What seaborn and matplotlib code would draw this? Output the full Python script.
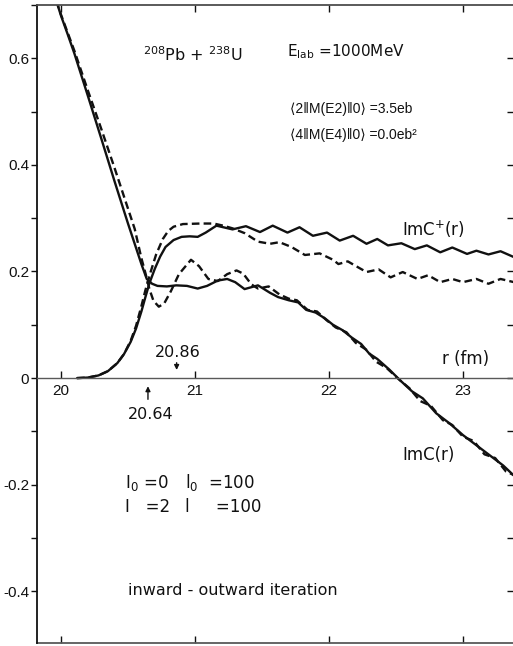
import matplotlib
matplotlib.use("Agg")
import matplotlib.pyplot as plt
import seaborn as sns
import pandas as pd
from matplotlib.ticker import MultipleLocator, FixedLocator

sns.set_style("ticks")
plt.rcParams["font.family"] = ["Liberation Sans", "DejaVu Sans"]
plt.rcParams["mathtext.default"] = "regular"
plt.rcParams["lines.scale_dashes"] = False

# ---------------- data ----------------
# Im C(r), solid (coupled) curve
r_imc_solid = [19.965, 20.00, 20.05, 20.10, 20.20, 20.30, 20.40, 20.50, 20.55, 20.60,
               20.64, 20.68, 20.72, 20.79, 20.86, 20.94, 21.02, 21.09, 21.17, 21.24,
               21.30, 21.37, 21.47, 21.56, 21.62, 21.70, 21.77, 21.83, 21.90, 21.97,
               22.03, 22.10, 22.17, 22.24, 22.30, 22.36, 22.45, 22.53, 22.62, 22.70,
               22.80, 22.90, 23.00, 23.10, 23.20, 23.30, 23.38]
imc_solid = [0.708, 0.680, 0.645, 0.609, 0.530, 0.450, 0.369, 0.290, 0.252, 0.214,
             0.186, 0.177, 0.173, 0.172, 0.174, 0.173, 0.168, 0.173, 0.183, 0.186,
             0.180, 0.167, 0.174, 0.160, 0.152, 0.146, 0.142, 0.128, 0.123, 0.112,
             0.100, 0.090, 0.076, 0.064, 0.046, 0.036, 0.016, -0.004, -0.025, -0.038,
             -0.066, -0.085, -0.107, -0.126, -0.145, -0.164, -0.183]

# Im C(r), dashed curve
r_imc_dashed = [19.965, 20.00, 20.05, 20.10, 20.20, 20.30, 20.40, 20.50, 20.55, 20.60,
                20.63, 20.66, 20.69, 20.73, 20.77, 20.82, 20.88, 20.97, 21.03, 21.10,
                21.17, 21.24, 21.31, 21.36, 21.42, 21.47, 21.55, 21.63, 21.70, 21.76,
                21.84, 21.91, 21.98, 22.05, 22.13, 22.20, 22.28, 22.35, 22.43, 22.52,
                22.60, 22.68, 22.76, 22.85, 22.92, 23.00, 23.08, 23.16, 23.24, 23.32,
                23.38]
imc_dashed = [0.708, 0.682, 0.648, 0.614, 0.540, 0.468, 0.394, 0.318, 0.280, 0.225,
              0.197, 0.167, 0.145, 0.134, 0.140, 0.163, 0.195, 0.222, 0.210, 0.186,
              0.182, 0.195, 0.202, 0.196, 0.176, 0.168, 0.172, 0.157, 0.149, 0.146,
              0.128, 0.125, 0.109, 0.095, 0.086, 0.066, 0.053, 0.031, 0.019, -0.002,
              -0.019, -0.043, -0.052, -0.079, -0.088, -0.110, -0.118, -0.143, -0.150, -0.175,
              -0.182]

# Im C+(r), solid curve
r_imcp_solid = [20.12, 20.20, 20.28, 20.35, 20.42, 20.47, 20.52, 20.56, 20.60, 20.63,
                20.66, 20.70, 20.74, 20.78, 20.84, 20.90, 20.96, 21.02, 21.08, 21.16,
                21.28, 21.38, 21.485, 21.58, 21.69, 21.78, 21.88, 21.985, 22.08, 22.18,
                22.28, 22.36, 22.44, 22.54, 22.64, 22.73, 22.83, 22.92, 23.03, 23.10,
                23.19, 23.28, 23.38]
imcp_solid = [0.000, 0.001, 0.005, 0.013, 0.028, 0.045, 0.068, 0.093, 0.125, 0.152,
              0.178, 0.205, 0.228, 0.246, 0.259, 0.265, 0.266, 0.265, 0.273, 0.286,
              0.279, 0.285, 0.274, 0.286, 0.273, 0.283, 0.267, 0.273, 0.258, 0.267,
              0.252, 0.261, 0.249, 0.253, 0.242, 0.249, 0.236, 0.245, 0.233, 0.239,
              0.232, 0.238, 0.227]

# Im C+(r), dashed curve
r_imcp_dashed = [20.12, 20.20, 20.28, 20.35, 20.42, 20.47, 20.52, 20.56, 20.60, 20.63,
                 20.67, 20.71, 20.76, 20.80, 20.84, 20.91, 21.04, 21.14, 21.21, 21.28,
                 21.37, 21.47, 21.56, 21.63, 21.72, 21.82, 21.93, 22.03, 22.07, 22.14,
                 22.23, 22.28, 22.37, 22.46, 22.55, 22.66, 22.74, 22.83, 22.92, 23.00,
                 23.10, 23.19, 23.28, 23.38]
imcp_dashed = [0.000, 0.001, 0.005, 0.013, 0.028, 0.045, 0.070, 0.098, 0.135, 0.165,
               0.200, 0.232, 0.261, 0.276, 0.284, 0.289, 0.290, 0.290, 0.286, 0.281,
               0.272, 0.256, 0.252, 0.255, 0.246, 0.231, 0.234, 0.222, 0.214, 0.219,
               0.206, 0.199, 0.204, 0.189, 0.199, 0.186, 0.193, 0.180, 0.186, 0.180,
               0.186, 0.177, 0.186, 0.180]

x_ticks = [20, 21, 22, 23]
x_ticklabels = ["20", "21", "22", "23"]
y_ticks = [-0.4, -0.2, 0.0, 0.2, 0.4, 0.6]
y_ticklabels = ["-0.4", "-0.2", "0", "0.2", "0.4", "0.6"]

# ---------------- figure ----------------
W, H = 513, 646
fig = plt.figure(figsize=(W / 100, H / 100), dpi=100)
ax = fig.add_axes([37 / W, 3 / H, (W - 37) / W, 638 / H])

ink = "#111111"
lw = 1.7
dash = (0, (5.5, 3.0))

sns.lineplot(x=r_imc_solid, y=imc_solid, ax=ax, color=ink, lw=lw, estimator=None, sort=False)
sns.lineplot(x=r_imc_dashed, y=imc_dashed, ax=ax, color=ink, lw=lw, estimator=None, sort=False,
             linestyle=dash)
sns.lineplot(x=r_imcp_solid, y=imcp_solid, ax=ax, color=ink, lw=lw, estimator=None, sort=False)
sns.lineplot(x=r_imcp_dashed, y=imcp_dashed, ax=ax, color=ink, lw=lw, estimator=None, sort=False,
             linestyle=dash)

ax.set_xlim(19.821, 23.373)
ax.set_ylim(-0.497, 0.700)
ax.set_xlabel("")
ax.set_ylabel("")

# x axis through y = 0
ax.spines["bottom"].set_position(("data", 0))
ax.spines["bottom"].set_color("0.35")
ax.spines["bottom"].set_linewidth(1.0)
ax.spines["top"].set_color("0.3")
ax.spines["top"].set_linewidth(1.3)
ax.spines["left"].set_color(ink)
ax.spines["left"].set_linewidth(1.3)
ax.spines["right"].set_visible(False)

ax.set_xticks(x_ticks, x_ticklabels)
ax.tick_params(axis="x", which="major", direction="in", length=5, width=1.0,
               top=True, bottom=True, labelsize=11, pad=4, colors=ink)

ax.set_yticks(y_ticks, y_ticklabels)
ax.yaxis.set_minor_locator(MultipleLocator(0.1))
ax.tick_params(axis="y", which="both", direction="out", length=4, width=1.0,
               left=True, right=False, labelsize=11, pad=1.5, colors=ink)

# frame bottom with inward ticks
secx = ax.secondary_xaxis(0.0)
secx.set_xticks(x_ticks)
secx.tick_params(direction="in", length=5, width=1.0, labelbottom=False, colors=ink)
secx.spines["bottom"].set_color("0.35")
secx.spines["bottom"].set_linewidth(1.3)

# right side inward ticks
secy = ax.secondary_yaxis("right")
secy.set_yticks([-0.4, -0.3, -0.2, -0.1, 0.0, 0.1, 0.2, 0.3, 0.4, 0.5, 0.6])
secy.tick_params(direction="in", length=4, width=1.0, labelright=False, colors=ink)
secy.spines["right"].set_visible(False)

# ---------------- annotations ----------------
tf = ["DejaVu Sans"]
fs = 12
bf = ["Liberation Sans", "DejaVu Sans"]
ax.text(20.612, 0.594, r"$^{208}$Pb + $^{238}$U", fontsize=11.5, color=ink, family=tf)
ax.text(21.687, 0.604, r"E$_{lab}$ =1000MeV", fontsize=11, color=ink, family=tf)
ax.text(21.709, 0.497, "⟨2‖M(E2)‖0⟩ =3.5eb", fontsize=10, color=ink, family=bf)
ax.text(21.709, 0.449, "⟨4‖M(E4)‖0⟩ =0.0eb²", fontsize=10, color=ink, family=bf)
ax.text(22.545, 0.267, r"ImC$^{+}$(r)", fontsize=fs, color=ink, family=tf)
ax.text(22.843, 0.026, "r (fm)", fontsize=fs, color=ink, family=tf)
ax.text(22.545, -0.153, "ImC(r)", fontsize=fs, color=ink, family=tf)

ax.text(20.873, 0.039, "20.86", fontsize=11.5, color=ink, ha="center", family=tf)
ax.annotate("", xy=(20.863, 0.010), xytext=(20.863, 0.034),
            arrowprops=dict(arrowstyle="-|>", color=ink, lw=1.0, mutation_scale=7))
ax.text(20.67, -0.076, "20.64", fontsize=11.5, color=ink, ha="center", family=tf)
ax.annotate("", xy=(20.649, -0.010), xytext=(20.649, -0.045),
            arrowprops=dict(arrowstyle="-|>", color=ink, lw=1.0, mutation_scale=7))

ax.text(20.478, -0.206, r"I$_0$ =0", fontsize=fs, color=ink, family=tf)
ax.text(20.925, -0.206, r"l$_0$  =100", fontsize=fs, color=ink, family=tf)
ax.text(20.478, -0.252, "I   =2", fontsize=fs, color=ink, family=tf)
ax.text(20.925, -0.252, "l     =100", fontsize=fs, color=ink, family=tf)
ax.text(20.50, -0.407, "inward - outward iteration", fontsize=11.5, color=ink, family=tf)

fig.savefig("out.png", dpi=100)
